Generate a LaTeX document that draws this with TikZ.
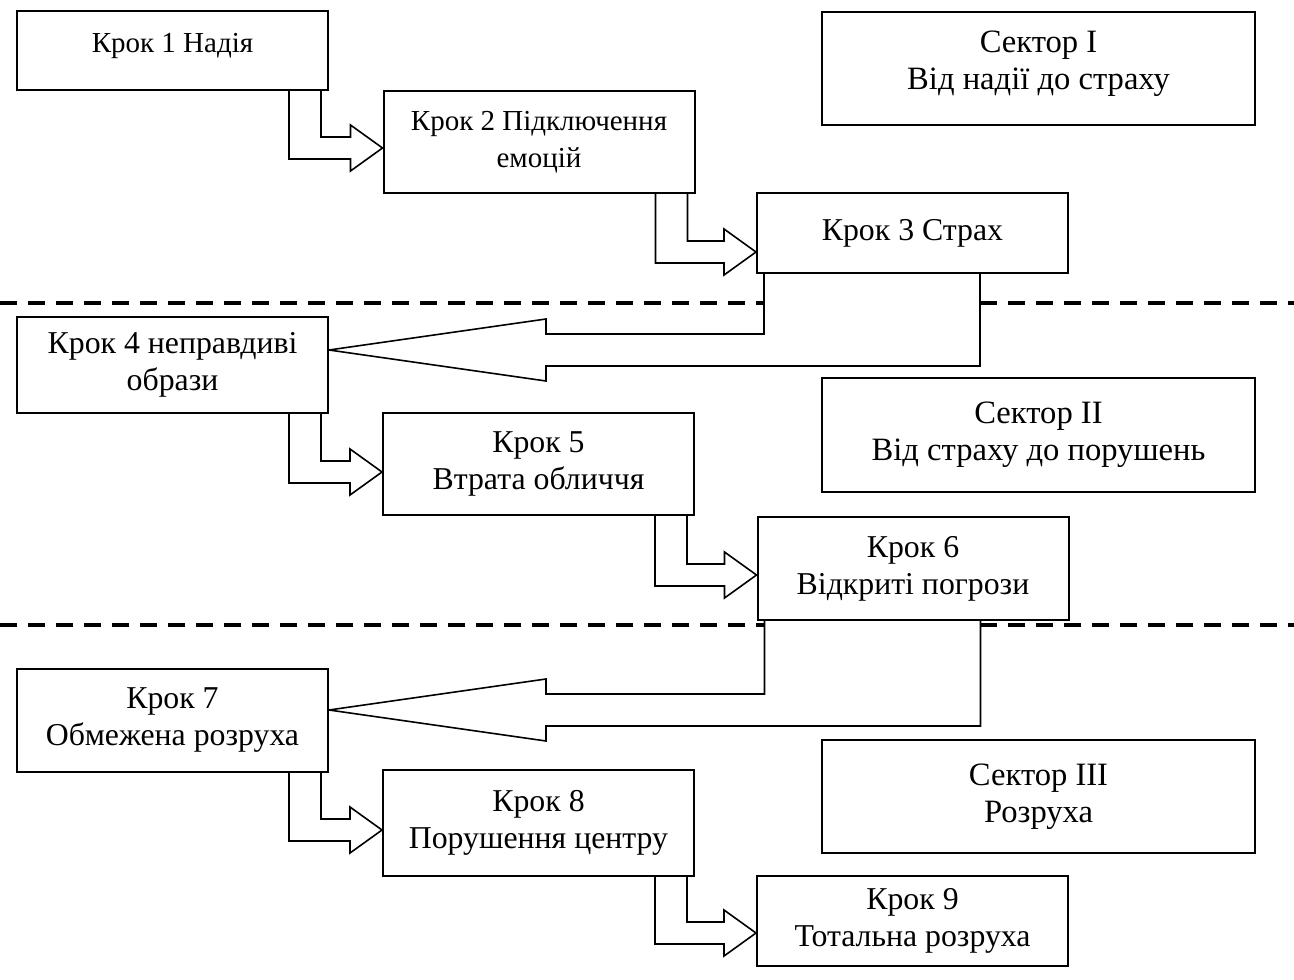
\documentclass[tikz,border=0pt]{standalone}
\usepackage{fontspec}
\setmainfont{Liberation Serif}
\usetikzlibrary{calc,backgrounds}

\tikzset{
    krok/.style={draw, line width=1pt, fill=white, minimum width=155.5pt, align=center, inner sep=2pt, font=\fontsize{15.9}{18.5}\selectfont},
    small krok/.style={krok, font=\fontsize{14.5}{18.5}\selectfont},
    sektor/.style={draw, line width=1pt, minimum width=216.5pt, align=center, font=\fontsize{16.3}{18.5}\selectfont},
    raised/.style={text depth=8pt},
    flow/.style={draw, line width=0.8pt, fill=white, line join=miter},
    divider/.style={line width=2pt, dash pattern=on 8.5pt off 5.5pt},
}

% L-shaped block arrow: from #1 down and right into #2, tip shifted by #3
\newcommand{\stepflow}[3]{%
    \draw[flow] ($(#1.south east)+(-40,0)$) |- ($(#2.west)+(-32,#3+11)$) -- ++(0,12)
        -- ($(#2.west)+(0,#3)$) -- ++(-32,-23) -- ++(0,12) -| ($(#1.south east)+(-8,0)$);}
% big block arrow back to the left column
\newcommand{\sectorjump}[3]{%
    \draw[flow] ($(#1.south west)+(8,0)$) |- ($(#2.east)+(217,#3-16)$) -- ++(0,-15)
        -- ($(#2.east)+(0,#3)$) -- ++(217,31) -- ++(0,-15) -| ($(#1.south west)+(224,0)$);}

\begin{document}
\begin{tikzpicture}[x=0.5pt, y=-0.5pt]
    \useasboundingbox (0,0) rectangle (1294,979);

    % steps
    \node[small krok, raised, minimum height=39.5pt] (k1) at (172.5,50.5) {Крок 1 Надія};
    \node[small krok, minimum height=51pt] (k2) at (539,142) {Крок 2 Підключення\\емоцій};
    \node[krok, minimum height=40pt] (k3) at (912.5,233) {Крок 3 Страх};
    \node[krok, minimum height=48pt] (k4) at (172.5,365) {Крок 4 неправдиві\\образи};
    \node[krok, minimum height=51pt] (k5) at (538.5,464) {Крок 5\\Втрата обличчя};
    \node[krok, minimum height=51.5pt] (k6) at (913,568.5) {Крок 6\\Відкриті погрози};
    \node[krok, minimum height=51.5pt] (k7) at (172.5,720.5) {Крок 7\\Обмежена розруха};
    \node[krok, minimum height=53pt] (k8) at (538.5,823) {Крок 8\\Порушення центру};
    \node[krok, minimum height=45pt] (k9) at (912.5,921) {Крок 9\\Тотальна розруха};

    % sectors
    \node[sektor, raised, minimum height=56.5pt] (s1) at (1038.5,68.5) {Сектор I\\Від надії до страху};
    \node[sektor, minimum height=57pt] (s2) at (1038.5,435) {Сектор II\\Від страху до порушень};
    \node[sektor, minimum height=56.5pt] (s3) at (1038.5,796.5) {Сектор III\\Розруха};

    \begin{scope}[on background layer]
        \fill[white] (0,0) rectangle (1294,979);
        \draw[divider] (0,303)--(1294,303);
        \draw[divider] (0,625)--(1294,625);

        \stepflow{k1}{k2}{6}
        \stepflow{k2}{k3}{19}
        \stepflow{k4}{k5}{8}
        \stepflow{k5}{k6}{6.5}
        \stepflow{k7}{k8}{7}
        \stepflow{k8}{k9}{12}

        \sectorjump{k3}{k4}{-15}
        \sectorjump{k6}{k7}{-10.5}
    \end{scope}
\end{tikzpicture}
\end{document}
